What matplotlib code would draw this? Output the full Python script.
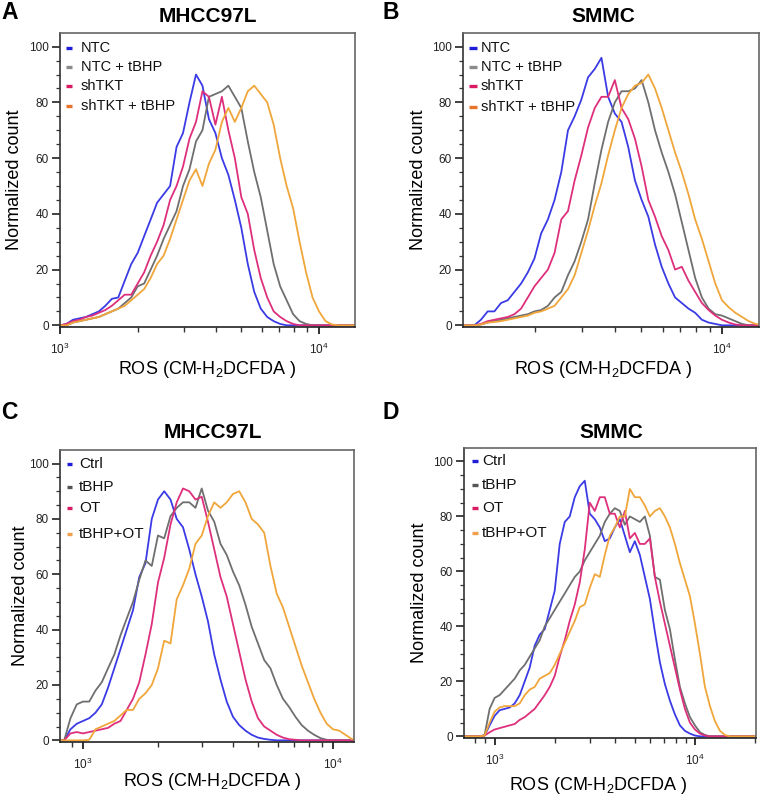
import matplotlib
matplotlib.use("Agg")
import matplotlib.pyplot as plt
from matplotlib.lines import Line2D
from matplotlib.ticker import LogLocator, MultipleLocator, FixedLocator, NullFormatter

plt.rcParams['font.family'] = ['Liberation Sans', 'DejaVu Sans']
plt.rcParams['mathtext.fontset'] = 'custom'
plt.rcParams['mathtext.rm'] = 'Liberation Sans'
plt.rcParams['mathtext.it'] = 'Liberation Sans:italic'
plt.rcParams['mathtext.bf'] = 'Liberation Sans:bold'
plt.rcParams['mathtext.default'] = 'regular'

# ---------------- data ----------------
# ROS intensity bins (log-spaced channel centres)
ROS_BINS = [708, 750, 794, 841, 891, 944, 1000, 1059, 1122, 1189, 1259, 1334, 1413,
            1496, 1585, 1679, 1778, 1884, 1995, 2113, 2239, 2371, 2512, 2661, 2818,
            2985, 3162, 3350, 3548, 3758, 3981, 4217, 4467, 4732, 5012, 5309, 5623,
            5957, 6310, 6683, 7079, 7499, 7943, 8414, 8913, 9441, 10000, 10593, 11220,
            11885, 12589, 13335, 14125, 14962, 15849, 16788, 17783, 18836, 19953]

# Panel A  (MHCC97L, bins 1000 .. 14125)
A_BINS = ROS_BINS[6:53]
A_NTC = [0, 0.5, 2, 2.5, 3, 4, 5, 7, 9.5, 10, 16, 22, 26, 32, 38, 44, 47, 50, 64, 69,
         80, 90, 86, 74, 69, 60, 54, 45, 35, 22, 12, 6, 3, 1.5, 0.5, 0, 0, 0, 0, 0,
         0, 0, 0, 0, 0, 0, 0]
A_NTC_TBHP = [0, 0, 1, 1.5, 2, 2.5, 3, 4, 5, 6, 8, 10, 14, 15, 20, 25, 31, 36, 41, 50,
              56, 66, 70, 82, 83, 84, 86, 82, 78, 66, 55, 46, 34, 22, 14, 9, 4, 1.5, 0.5, 0,
              0, 0, 0, 0, 0, 0, 0]
A_SHTKT = [0, 0.5, 1.5, 2, 3, 3.5, 4.5, 5.5, 7, 9, 11, 11, 15, 19, 25, 30, 36, 45, 50, 57,
           67, 73, 84, 82, 72, 82, 70, 60, 46, 40, 27, 17, 10, 5, 3, 1.5, 0.5, 0, 0, 0,
           0, 0, 0, 0, 0, 0, 0]
A_SHTKT_TBHP = [0, 0, 1, 1.5, 2, 2.5, 3, 4, 5, 6, 7, 9, 11, 13, 17, 22, 25, 31, 38, 45,
                52, 56, 50, 58, 63, 73, 78, 73, 78, 84, 86, 83, 80, 72, 60, 50, 42, 30, 19, 10,
                5, 1.5, 0.3, 0, 0, 0, 0]

# Panel B  (SMMC, bins 1059 .. 14125)
B_BINS = ROS_BINS[7:53]
B_NTC = [0, 0, 0, 2, 5, 5, 8, 9, 12, 15, 19, 24, 33, 38, 45, 55, 70, 75, 81, 89,
         92, 96, 82, 76, 73, 64, 52, 45, 39, 29, 21, 15, 10, 8, 6, 4.5, 2, 1, 0.5, 0,
         0, 0, 0, 0, 0, 0]
B_NTC_TBHP = [0, 0, 0, 0.3, 1, 1.5, 2, 2.5, 3, 3.5, 4, 5, 5.5, 7, 10, 12, 18, 23, 30, 38,
              51, 63, 73, 80, 84, 84, 85, 88, 80, 70, 62, 55, 47, 37, 27, 17, 10, 6, 4, 3.5,
              2.5, 1.5, 0.5, 0, 0, 0]
B_SHTKT = [0, 0, 0, 0.5, 1.5, 2, 2.5, 3, 4, 6, 10, 14, 17, 20, 26, 38, 41, 52, 61, 71,
           78, 82, 82, 88, 78, 74, 67, 57, 45, 39, 32, 27, 20, 21, 16, 12, 8, 5.5, 3.5, 2,
           1, 0.3, 0, 0, 0, 0]
B_SHTKT_TBHP = [0, 0, 0, 0.3, 1, 1.2, 1.5, 2, 2.5, 3, 3.5, 4.5, 5, 6, 7, 10, 13, 18, 26, 34,
                43, 51, 61, 70, 78, 83, 86, 87, 90, 85, 78, 70, 62, 55, 47, 38, 31, 23, 15, 9,
                6.5, 4.5, 3, 1.5, 0.5, 0.2]

# Panel C  (MHCC97L, bins 794 .. 12589)
C_BINS = ROS_BINS[2:51]
C_CTRL = [0, 0, 4, 6, 7, 8, 10, 13, 19, 26, 33, 40, 47, 59, 64, 80, 87, 90, 87, 80,
          77, 69, 60, 52, 43, 31, 22, 14, 8.5, 5.5, 3.5, 2, 1, 0.5, 0.2, 0, 0, 0, 0, 0,
          0, 0, 0, 0, 0, 0, 0, 0, 0]
C_TBHP = [0, 0, 8, 13, 14, 14, 18, 21, 26, 31, 38, 44, 50, 58, 65, 63, 74, 73, 81, 84,
          86, 86, 84, 91, 83, 79, 71, 67, 61, 56, 49, 41, 35, 29, 26, 20, 15, 12, 8.5, 5.5,
          3.5, 2, 0.8, 0.2, 0, 0, 0, 0, 0]
C_OT = [0, 0, 2.5, 3, 2.5, 3, 3.5, 4, 4.5, 6, 7, 11, 15, 21, 31, 42, 57, 66, 78, 86,
        91, 90, 87, 88, 79, 69, 59, 52, 42, 32, 22, 14, 8, 5, 3.5, 2, 1, 0.4, 0.2, 0,
        0, 0, 0, 0, 0, 0, 0, 0, 0]
C_TBHP_OT = [0, 0, 0, 0, 0, 0.2, 4, 5, 6, 7, 9, 11, 11, 15, 17, 20, 26, 36, 35, 51,
             56, 62, 71, 74, 81, 86, 84, 86, 89, 90, 86, 80, 78, 75, 63, 53, 48, 41, 34, 27,
             21, 15, 10, 6, 4, 3.5, 2, 0.5, 0]

# Panel D  (SMMC, bins 708 .. 19953)
D_BINS = ROS_BINS[0:59]
D_CTRL = [0, 0, 0, 0, 0.3, 4, 7.5, 9.5, 10, 10.5, 12, 15, 20, 25, 33, 37, 39, 46, 53, 70,
          78, 80, 87, 91, 93, 81, 79, 76, 71, 72, 76, 79, 73, 67, 71, 66, 58, 50, 38, 27,
          19, 13, 8, 4, 2, 1, 0.3, 0, 0, 0, 0, 0, 0, 0, 0, 0, 0, 0, 0]
D_TBHP = [0, 0, 0, 0, 0.5, 10, 14, 15, 17, 19, 21, 24, 26, 29, 32, 35, 40, 43, 46, 49,
          52, 55, 58, 60, 64, 67, 70, 73, 78, 81, 83, 82, 77, 80, 79, 78, 80, 73, 58, 57,
          46, 39, 28, 18, 12, 7, 4, 1.5, 0.5, 0, 0, 0, 0, 0, 0, 0, 0, 0, 0]
D_OT = [0, 0, 0, 0, 0.3, 1.5, 2.5, 3, 3.5, 4, 4.5, 6, 7, 8.5, 10, 12.5, 15, 18, 22, 29,
        35, 42, 48, 56, 68, 85, 82, 87, 87, 81, 81, 76, 82, 72, 74, 70, 70, 72, 58, 49,
        41, 33, 25, 17, 10, 5, 2.5, 1, 0.3, 0, 0, 0, 0, 0, 0, 0, 0, 0, 0]
D_TBHP_OT = [0, 0, 0, 0, 0.3, 5, 9, 10.5, 11, 11, 11, 12, 15, 17, 18, 21, 22, 23, 26, 30,
             34, 38, 42, 47, 48, 54, 59, 58, 66, 73, 76, 80, 80, 90, 87, 87, 84, 80, 82, 83,
             80, 76, 70, 63, 57, 51, 41, 30, 18, 11, 5.5, 2, 0.5, 0, 0, 0, 0, 0, 0]

LABELS_AB = ["NTC", "NTC + tBHP", "shTKT", "shTKT + tBHP"]
LABELS_CD = ["Ctrl", "tBHP", "OT", "tBHP+OT"]
TITLES = ["MHCC97L", "SMMC", "MHCC97L", "SMMC"]
PANEL_LETTERS = ["A", "B", "C", "D"]
Y_TICKS = [0, 20, 40, 60, 80, 100]
X_LABEL = r"ROS (CM-H$_2$DCFDA )"
Y_LABEL = "Normalized count"

# ---------------- style ----------------
W, H = 762, 800
LINE_COLORS = ["#3b3be6", "#6f6f6f", "#de2f7c", "#f0a63a"]
HANDLE_COLORS_AB = ["#1e1ed8", "#8a8a8a", "#d81b63", "#e8742c"]
HANDLE_COLORS_CD = ["#1e1ed8", "#555555", "#d81b63", "#eea04e"]

panels = [
    dict(rect=(60, 33, 355, 327), xlim=(1000, 13770), bins=A_BINS,
         series=[A_NTC, A_NTC_TBHP, A_SHTKT, A_SHTKT_TBHP], labels=LABELS_AB,
         hcolors=HANDLE_COLORS_AB, title_xy=(208, 17), letter_xy=(1, 1),
         leg_x=(66, 72, 81), leg_y=[48, 67, 86, 106], leg_fs=10.5,
         ylab_x=15, xlab=(207, 370)),
    dict(rect=(463, 33, 759, 327), xlim=(1079, 13750), bins=B_BINS,
         series=[B_NTC, B_NTC_TBHP, B_SHTKT, B_SHTKT_TBHP], labels=LABELS_AB,
         hcolors=HANDLE_COLORS_AB, title_xy=(603, 17), letter_xy=(382, 1),
         leg_x=(469, 477, 481), leg_y=[48, 67, 86, 107], leg_fs=10.5,
         ylab_x=419, xlab=(603, 370)),
    dict(rect=(60, 450, 354, 742), xlim=(809, 12140), bins=C_BINS,
         series=[C_CTRL, C_TBHP, C_OT, C_TBHP_OT], labels=LABELS_CD,
         hcolors=HANDLE_COLORS_CD, title_xy=(213, 432), letter_xy=(1, 401),
         leg_x=(67, 72, 79), leg_y=[464, 487, 508, 534], leg_fs=11,
         ylab_x=20, xlab=(212, 782)),
    dict(rect=(464, 448, 756, 738), xlim=(703, 20180), bins=D_BINS,
         series=[D_CTRL, D_TBHP, D_OT, D_TBHP_OT], labels=LABELS_CD,
         hcolors=HANDLE_COLORS_CD, title_xy=(611, 432), letter_xy=(382, 401),
         leg_x=(472, 478, 482), leg_y=[461, 485, 508, 533], leg_fs=11,
         ylab_x=419, xlab=(598, 785)),
]

fig = plt.figure(figsize=(W / 100, H / 100), dpi=100)

for i, p in enumerate(panels):
    l, t, r, b = p["rect"]
    ax = fig.add_axes([l / W, 1 - b / H, (r - l) / W, (b - t) / H])
    for ys, c in zip(p["series"], LINE_COLORS):
        ax.plot(p["bins"], ys, color=c, lw=1.3, solid_joinstyle="round")
    ax.set_xscale("log")
    ax.set_xlim(*p["xlim"])
    ax.set_ylim(-0.6, 104.9)

    ax.xaxis.set_major_locator(LogLocator(base=10, numticks=10))
    ax.xaxis.set_minor_locator(LogLocator(base=10, subs=range(2, 10), numticks=20))
    ax.xaxis.set_minor_formatter(NullFormatter())
    ax.yaxis.set_major_locator(FixedLocator(Y_TICKS))
    ax.yaxis.set_minor_locator(MultipleLocator(5))

    ax.tick_params(axis="x", which="major", length=5, width=1.3, pad=6,
                   labelsize=8.5, colors="#222222")
    ax.tick_params(axis="x", which="minor", length=3.5, width=1.0, colors="#333333")
    ax.tick_params(axis="y", which="major", length=5.5, width=1.2, pad=2.5,
                   labelsize=8.5, colors="#222222")
    ax.tick_params(axis="y", which="minor", length=3, width=0.9, colors="#333333")
    for s in ax.spines.values():
        s.set_color("#666666")
        s.set_linewidth(1.2)
    ax.spines["bottom"].set_color("#222222")
    ax.spines["left"].set_color("#333333")

    # axis labels
    ax.set_ylabel(Y_LABEL, fontsize=13, ha="center", va="center")
    ax.yaxis.set_label_coords((p["ylab_x"] - l) / (r - l), 0.5)
    ax.set_xlabel(X_LABEL, fontsize=13, ha="center", va="center")
    ax.xaxis.set_label_coords((p["xlab"][0] - l) / (r - l), (b - p["xlab"][1]) / (b - t))

    # title and panel letter
    fig.text(p["title_xy"][0] / W, 1 - p["title_xy"][1] / H, TITLES[i],
             fontsize=15, fontweight="bold", ha="center", va="center")
    fig.text(p["letter_xy"][0] / W, 1 - p["letter_xy"][1] / H, PANEL_LETTERS[i],
             fontsize=16.5, fontweight="bold", ha="left", va="top")

    # legend (short coloured dash + label)
    x0, x1, xt = p["leg_x"]
    for lab, hc, yy in zip(p["labels"], p["hcolors"], p["leg_y"]):
        fig.add_artist(Line2D([x0 / W, x1 / W], [1 - yy / H, 1 - yy / H],
                              transform=fig.transFigure, color=hc, lw=2.4,
                              solid_capstyle="butt"))
        fig.text(xt / W, 1 - yy / H, lab, fontsize=p["leg_fs"], ha="left",
                 va="center", color="#111111")

fig.savefig("out.png", dpi=100)
